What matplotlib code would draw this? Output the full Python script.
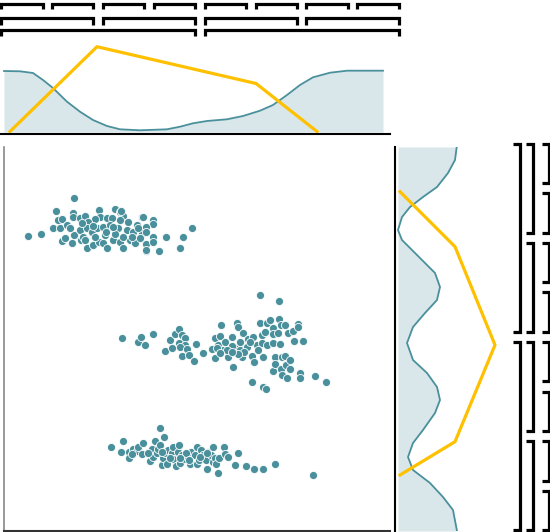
import numpy as np
import matplotlib.pyplot as plt

# scatter points (x, y in plot units, y grows downward)
c1_x = [74.3, 55.7, 28.3, 40.7, 52.7, 58.3, 62.3, 73.3, 73.3, 59.7, 66.7, 80, 85.3, 99.3, 115, 120, 123.3,
        100, 106.7, 111.7, 95, 88.3, 127.7, 142, 152.7, 153, 136.7, 146, 74, 70, 80, 86.7, 91.7, 96.7,
        103.3, 110, 118.3, 126.7, 133.3, 141.7, 146, 153.3, 166, 182.7, 191.7, 61.7, 71.7, 80.7, 86.7,
        92.7, 99.3, 103.3, 107.3, 113.3, 120, 122.7, 130, 135, 140, 146, 146, 153.3, 159.3, 180, 65,
        83.3, 95, 105, 115, 123.3, 131.7, 93.3, 81.7, 106, 113.3, 85, 138.3, 120, 121, 142.7, 145.7]
c1_y = [197.7, 211, 236, 233.7, 228.3, 220, 219.3, 213.3, 217.3, 228.3, 225, 217.7, 215.7, 210.3, 209,
        211.7, 215.7, 217.3, 217.7, 218.3, 219.3, 221.7, 221.7, 217.3, 219.7, 224.3, 225, 226.7, 235,
        228.3, 230, 228.3, 231.7, 228.3, 226.7, 225, 228.3, 230, 231.7, 233.3, 231.7, 237.3, 236.7,
        236.7, 228.3, 241, 242.7, 240, 247.7, 245, 241.7, 243.3, 247.7, 240, 241.7, 247.7, 240, 243.3,
        238.3, 244.3, 251, 242.3, 250.7, 248.3, 237.7, 236.7, 236.7, 235, 234.3, 236.7, 236.7, 225.7,
        223.3, 231.7, 226.7, 240, 228.3, 220, 211, 217.3, 250.3]

c2_x = [260, 279.3, 121.7, 137.7, 140.7, 145, 152.7, 165, 170, 171.7, 175, 179.3, 181.7, 185, 179, 185,
        180, 186.7, 181.7, 189.3, 194, 196, 202.7, 211.7, 215, 215, 220, 221, 218.3, 223.3, 225, 228.3,
        231.7, 232.7, 235, 236.7, 237.7, 240, 241.7, 243.3, 246.7, 248.3, 251.7, 254.3, 253.3, 256.7,
        260, 262, 262, 263.3, 265, 266.7, 267.3, 270, 272.7, 272.7, 273.3, 275, 272.7, 275, 277.7,
        279.3, 280, 281.3, 281.7, 280.7, 281.7, 285, 285, 286, 286.7, 288.3, 290, 290, 293.3, 294.3,
        297.7, 297.7, 300, 300, 302.7, 315, 325.7, 251.7, 262.7, 266, 232, 240, 226.7, 216.7, 220, 244,
        250, 258.3, 237.7, 231.7]
c2_y = [294.7, 301.3, 337.7, 342, 336.7, 344.7, 333.7, 350.7, 340.3, 348.3, 334.3, 329.3, 335, 338.3,
        343.3, 345, 346.7, 349.3, 356, 355.3, 360.7, 343.7, 353.3, 349, 358.3, 338.3, 336, 325, 345,
        350, 341.7, 356.7, 336.7, 366.7, 348.3, 323.3, 326.7, 341.7, 356.7, 333.3, 346.7, 339.3, 356,
        361.7, 336.7, 345, 322.7, 335, 343.3, 356.7, 331.7, 345, 323.3, 320, 328.3, 334.3, 343.3,
        356.7, 370.7, 364.3, 333.3, 319.3, 343.7, 325, 357.3, 369.3, 375, 325, 356, 365, 377.7, 332.7,
        360, 369.3, 330.7, 341.3, 324.3, 327.3, 372.7, 377.7, 341.3, 376, 382, 381.7, 386.7, 388.7,
        346, 350, 350, 348.3, 353.3, 351.7, 341.7, 350, 354, 351.7]

c3_x = [160, 164.3, 111, 122.7, 121, 129.3, 129.3, 133.3, 136.7, 138.3, 141.7, 142.7, 150, 151.7, 152.7,
        155, 157.3, 158.3, 160, 161.7, 163.3, 165, 166.7, 168.3, 171.7, 173.3, 173.3, 176, 178.3, 179.3,
        180, 181.7, 185, 188.3, 190, 190.7, 195, 196.7, 197.3, 199.3, 201, 203.3, 206, 207.3, 208.3,
        210.7, 212.7, 213.3, 215, 216, 218.3, 219, 224.3, 225, 227.7, 238, 235.3, 245.7, 254, 263.3,
        275.3, 312.7, 186, 200, 180, 170, 161.7, 148.3, 131.7, 206.7, 189.3]
c3_y = [427.7, 436.7, 446.7, 440.7, 451.7, 451.7, 457.7, 449.3, 451, 447.3, 454.3, 442.7, 461, 449.3,
        456.7, 440.7, 453.3, 449.3, 445, 465, 457.7, 453.3, 464, 450, 453.3, 446.7, 459.3, 465.7, 451.7,
        445, 463.3, 455, 459.3, 456.7, 464.3, 451.7, 455, 447.3, 464.3, 460, 450, 455, 460, 469, 451.7,
        455, 447.3, 461.7, 458.3, 464, 472.7, 458.3, 446.7, 454.3, 456.7, 452.7, 465.3, 466, 469.3,
        469.3, 463.7, 474.7, 453.3, 456.7, 458.3, 458.3, 451.7, 453.3, 454, 453.3, 460]

# top marginal density curve and yellow line
top_x = [4, 20, 33, 43, 53, 67, 80, 93, 107, 120, 140, 167, 180, 193, 207, 227, 243, 260, 273, 287,
         300, 313, 330, 347, 383]
top_y = [71, 71.3, 73, 80, 88, 101.7, 111.7, 120, 126, 129.3, 130.3, 129.3, 126.7, 123.3, 121, 119.3,
         116, 110.7, 105, 95, 85, 77.3, 72.7, 70.7, 70.7]
top_line_x = [10, 97, 256, 317]
top_line_y = [131.5, 46.7, 83.5, 131.5]

# right marginal density curve and yellow line
right_y = [147, 160, 173, 187, 197, 207, 217, 230, 240, 250, 263, 273, 287, 300, 313, 327, 343, 360,
           373, 387, 400, 413, 430, 443, 457, 470, 483, 497, 510, 531]
right_x = [456.7, 455, 448, 437, 423, 410, 402, 398, 402, 412, 425, 435, 440, 437, 425, 413, 407, 413,
           427, 437, 440, 435, 423, 413, 408, 413, 430, 443, 453, 457]
right_line_x = [400, 455, 495, 455, 400]
right_line_y = [191.7, 246.7, 345, 441.7, 475]

n_leaves = 8

teal = '#4a909c'
fill_c = '#d9e7eb'
gold = '#ffc000'

fig = plt.figure(figsize=(5.5, 5.32), dpi=100)
W, H = 550, 532

# main scatter
ax = fig.add_axes([4/W, 1/H, 386/W, 384/H])
for xs, ys in [(c1_x, c1_y), (c2_x, c2_y), (c3_x, c3_y)]:
    ax.scatter(xs, ys, s=34, color=teal, edgecolor='white', linewidth=0.6, zorder=3)
ax.set_xlim(4, 390)
ax.set_ylim(531, 147)
ax.spines['top'].set_visible(False)
ax.spines['right'].set_visible(False)
ax.spines['left'].set_color('#888888')
ax.spines['bottom'].set_color('#333333')
ax.spines['left'].set_linewidth(1.2)
ax.spines['bottom'].set_linewidth(1.5)
ax.set_xticks([])
ax.set_yticks([])

# top marginal
axt = fig.add_axes([0/W, (H-134)/H, 390/W, 94/H])
axt.fill_between(top_x, top_y, 132, color=fill_c, linewidth=0)
axt.plot(top_x, top_y, color=teal, lw=1.3)
axt.plot(top_line_x, top_line_y, color=gold, lw=2.3)
axt.set_xlim(0, 390)
axt.set_ylim(134, 40)
for s in ['top', 'right', 'left']:
    axt.spines[s].set_visible(False)
axt.spines['bottom'].set_color('black')
axt.spines['bottom'].set_linewidth(1.5)
axt.set_xticks([])
axt.set_yticks([])

# right marginal
axr = fig.add_axes([395/W, 1/H, 105/W, 384/H])
axr.fill_betweenx(right_y, 398, right_x, color=fill_c, linewidth=0)
axr.plot(right_x, right_y, color=teal, lw=1.3)
axr.plot(right_line_x, right_line_y, color=gold, lw=2.3)
axr.set_xlim(395, 500)
axr.set_ylim(531, 147)
for s in ['top', 'right', 'bottom']:
    axr.spines[s].set_visible(False)
axr.spines['left'].set_color('black')
axr.spines['left'].set_linewidth(1.5)
axr.set_xticks([])
axr.set_yticks([])

# bracket overlay
axo = fig.add_axes([0, 0, 1, 1])
axo.set_xlim(0, W)
axo.set_ylim(H, 0)
axo.axis('off')
lw = 2.3

# top brackets (three levels)
top_start, top_step, top_w = 1, 50.9, 41.5
top_rows = [(1, 4, 8.5), (2, 18, 24.5), (4, 29.5, 36)]
for group, ytop, ybot in top_rows:
    for i in range(0, n_leaves, group):
        x0 = top_start + top_step * i
        x1 = top_start + top_step * (i + group - 1) + top_w
        axo.plot([x0, x0, x1, x1], [ybot, ytop, ytop, ybot], color='black', lw=lw,
                 solid_joinstyle='miter', solid_capstyle='butt')

# right brackets (three levels)
r_start, r_step, r_h = 143.5, 49.6, 39.5
right_cols = [(1, 541.5, 548.5), (2, 526, 533), (4, 513, 520)]
for group, xin, xout in right_cols:
    for i in range(0, n_leaves, group):
        y0 = r_start + r_step * i
        y1 = r_start + r_step * (i + group - 1) + r_h
        axo.plot([xin, xout, xout, xin], [y0, y0, y1, y1], color='black', lw=lw,
                 solid_joinstyle='miter', solid_capstyle='butt')

plt.savefig('out.png', dpi=100)
